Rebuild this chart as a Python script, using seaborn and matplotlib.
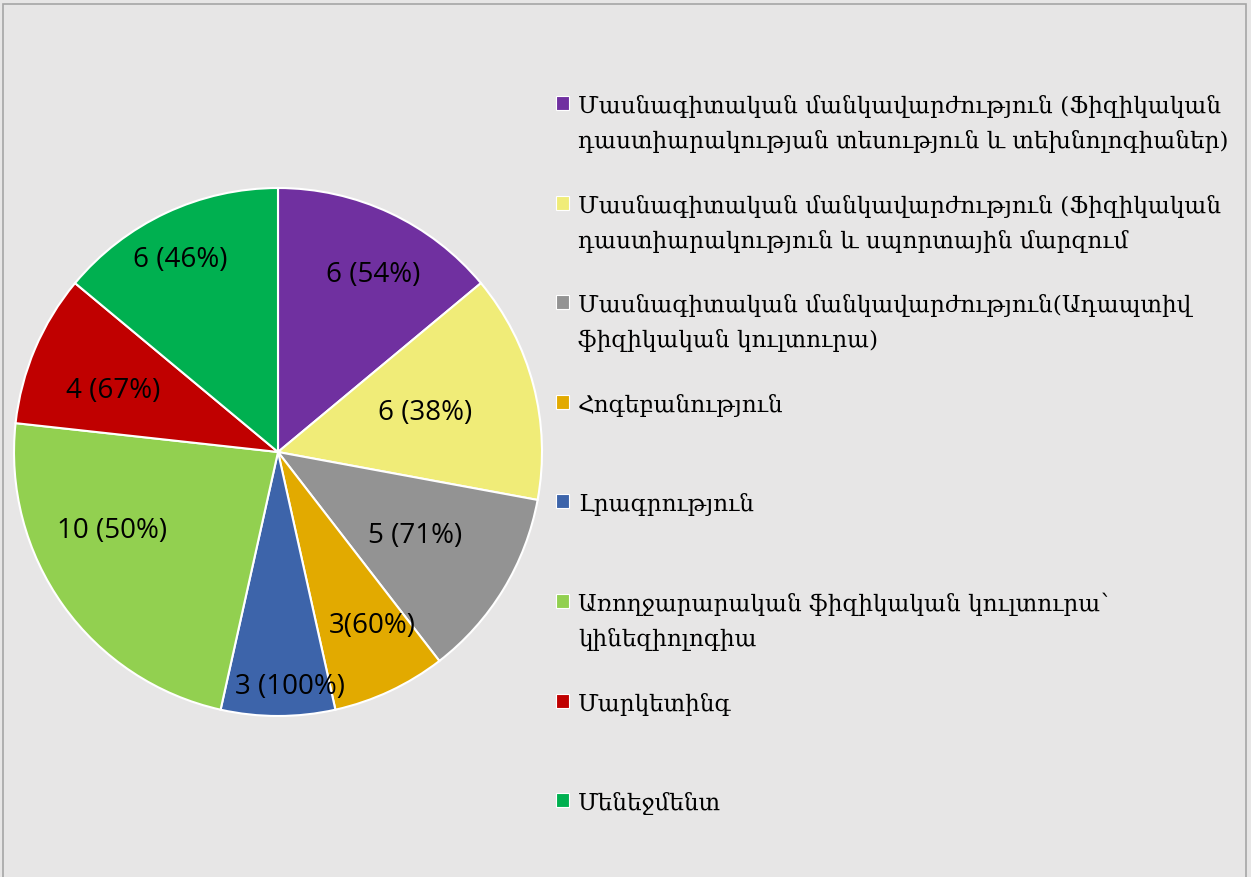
import numpy as np
import matplotlib.pyplot as plt
import seaborn as sns
from matplotlib.patches import Rectangle

sns.set_style('white')
plt.rcParams['font.family'] = ['DejaVu Serif']

# data
programs = [
    'Մասնագիտական մանկավարժություն (Ֆիզիկական\nդաստիարակության տեսություն և տեխնոլոգիաներ)',
    'Մասնագիտական մանկավարժություն (Ֆիզիկական\nդաստիարակություն և սպորտային մարզում',
    'Մասնագիտական մանկավարժություն(Ադապտիվ\nֆիզիկական կուլտուրա)',
    'Հոգեբանություն',
    'Լրագրություն',
    'Առողջարարական ֆիզիկական կուլտուրա՝\nկինեզիոլոգիա',
    'Մարկետինգ',
    'Մենեջմենտ',
]
counts = [6, 6, 5, 3, 3, 10, 4, 6]
value_labels = ['6 (54%)', '6 (38%)', '5 (71%)', '3(60%)', '3 (100%)', '10 (50%)', '4 (67%)', '6 (46%)']
colors = ['#7030A0', '#F0EC78', '#939393', '#E2AA00', '#3D64AA', '#92D050', '#C00000', '#00B050']

# label placement (radius fraction, angle shift in degrees) to mimic Excel best fit
lab_r = [0.765, 0.577, 0.607, 0.746, 0.887, 0.694, 0.667, 0.82]
lab_shift = [3, -0.5, 0, -3.4, -2.9, 10.4, -2.4, -1.8]

W, H = 1251, 878
bg = '#E7E6E6'
fig = plt.figure(figsize=(W / 100, H / 100), dpi=100, facecolor=bg)
fig.patches.append(Rectangle((3 / W, -0.01), 1243 / W, 1 - 5 / H + 0.01, transform=fig.transFigure,
                             fill=False, edgecolor='#A6A6A6', linewidth=1.2))

cx, cy, r = 278, 453, 264
ax = fig.add_axes([(cx - r) / W, (H - cy - r) / H, 2 * r / W, 2 * r / H])
ax.set_facecolor(bg)
wedges, _ = ax.pie(counts, colors=sns.color_palette(colors), startangle=90, counterclock=False,
                   wedgeprops=dict(edgecolor='white', linewidth=1.5))
ax.set_xlim(-1, 1)
ax.set_ylim(-1, 1)
ax.set_aspect('equal')
ax.axis('off')

for w, lab, rr, sh in zip(wedges, value_labels, lab_r, lab_shift):
    mid = np.deg2rad((w.theta1 + w.theta2) / 2 - sh)
    ax.text(rr * np.cos(mid), rr * np.sin(mid), lab, ha='center', va='center',
            fontsize=20, family=['Open Sans', 'DejaVu Sans'], color='black')

# legend, drawn as Excel spaces it
y0, step = 113, 99.6
for i, (name, col) in enumerate(zip(programs, colors)):
    yb = y0 + i * step
    fig.patches.append(Rectangle((556 / W, 1 - (yb - 2) / H), 13 / W, 14 / H, transform=fig.transFigure,
                                 facecolor=col, edgecolor='white', linewidth=0.8))
    for j, line in enumerate(name.split('\n')):
        fig.text(578 / W, 1 - (yb + 35 * j) / H, line, ha='left', va='baseline',
                 fontsize=16.7, color='black')

fig.savefig('out.png', dpi=100, facecolor=bg)
